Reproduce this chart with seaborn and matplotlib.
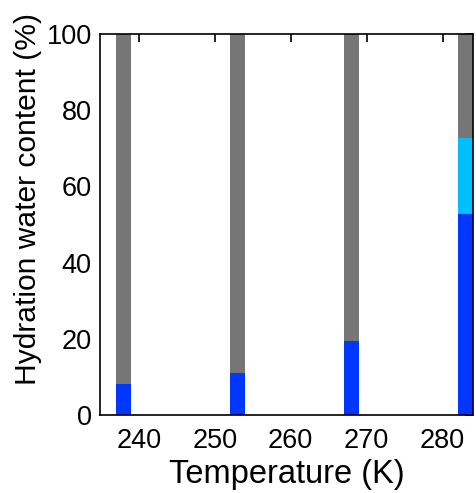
import matplotlib
matplotlib.use("Agg")
import matplotlib.pyplot as plt
import seaborn as sns
import pandas as pd
import numpy as np

temperatures = [238, 253, 268, 283]
bound_water = [8.1, 11.0, 19.4, 52.8]      # blue
intermediate_water = [0.0, 0.0, 0.0, 19.8]  # cyan
total = [100, 100, 100, 100]               # gray top to 100

sns.set_style("white")
plt.rcParams['font.family'] = ['Liberation Sans', 'DejaVu Sans']
plt.rcParams['text.color'] = 'black'
plt.rcParams['axes.labelcolor'] = 'black'
plt.rcParams['xtick.color'] = 'black'
plt.rcParams['ytick.color'] = 'black'

fig = plt.figure(figsize=(4.76, 4.93), dpi=100)
ax = fig.add_axes([100/476, 78/493, 373/476, 381/493])

df = pd.DataFrame({
    "T": temperatures,
    "total": total,
    "mid": np.array(bound_water) + np.array(intermediate_water),
    "blue": bound_water,
})

w = 2 / 15
sns.barplot(data=df, x="T", y="total", native_scale=True, color="#767676",
            width=w, saturation=1, ax=ax, linewidth=0, errorbar=None)
sns.barplot(data=df, x="T", y="mid", native_scale=True, color="#00BFFF",
            width=w, saturation=1, ax=ax, linewidth=0, errorbar=None)
sns.barplot(data=df, x="T", y="blue", native_scale=True, color="#0037FF",
            width=w, saturation=1, ax=ax, linewidth=0, errorbar=None)

ax.set_xlim(234.9, 284)
ax.set_ylim(0, 100)
ax.set_xticks([240, 250, 260, 270, 280])
ax.set_yticks([0, 20, 40, 60, 80, 100])
ax.tick_params(direction="in", length=6, width=1.2, top=True, right=True,
               labelsize=19.5, colors="black", labelcolor="black", pad=6)
ax.tick_params(axis="x", pad=9)
for s in ax.spines.values():
    s.set_visible(True)
    s.set_color("black")
    s.set_linewidth(1.2)
ax.set_xlabel("Temperature (K)", fontsize=23.5, labelpad=4, color="black")
ax.set_ylabel("Hydration water content (%)", fontsize=21.6, color="black")
ax.yaxis.set_label_coords(-0.155, 0.568)

fig.savefig("out.png", dpi=100)
